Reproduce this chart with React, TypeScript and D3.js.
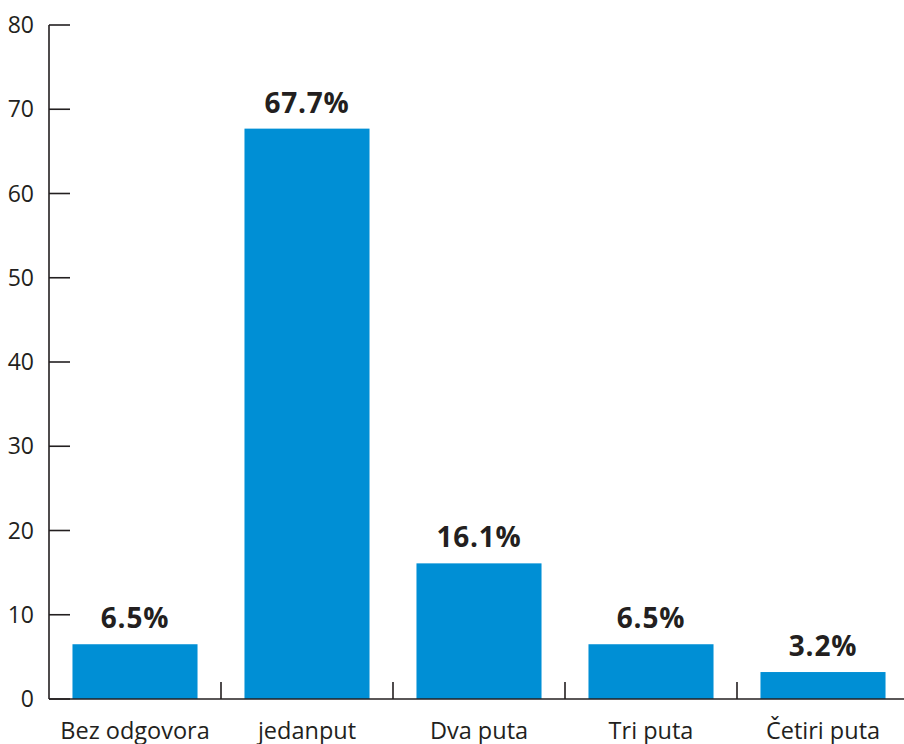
import React from "react";
import * as d3 from "d3";

const categories = ["Bez odgovora", "jedanput", "Dva puta", "Tri puta", "Četiri puta"];
const values = [6.5, 67.7, 16.1, 6.5, 3.2];
const valueLabels = ["6.5%", "67.7%", "16.1%", "6.5%", "3.2%"];
const yTicks = [0, 10, 20, 30, 40, 50, 60, 70, 80];

const W = 904;
const H = 744;
const ink = "#231f20";
const barColor = "#008fd5";
const font = "'Open Sans', 'Noto Sans', sans-serif";

export default function App() {
  const x0 = 49;
  const y0 = 699;
  const yTop = 25;
  const x = d3
    .scaleBand<string>()
    .domain(categories)
    .range([x0, x0 + 172 * categories.length])
    .paddingInner(0.273)
    .paddingOuter(0.1365);
  const y = d3.scaleLinear().domain([0, 80]).range([y0, yTop]);
  const step = x.step();

  return (
    <svg
      width={W}
      height={H}
      style={{ position: "absolute", left: 0, top: 0, display: "block", background: "#fff" }}
    >
      {categories.map((c, i) => (
        <rect
          key={c}
          x={x(c)!}
          y={y(values[i])}
          width={x.bandwidth()}
          height={y0 - y(values[i])}
          fill={barColor}
        />
      ))}
      {/* y axis */}
      <line x1={x0} x2={x0} y1={yTop} y2={y0} stroke={ink} strokeWidth={1.6} />
      {yTicks.map((t) => (
        <g key={t}>
          <line x1={x0} x2={x0 + 21} y1={y(t)} y2={y(t)} stroke={ink} strokeWidth={1.6} />
          <text
            x={34}
            y={y(t)}
            dy="0.35em"
            textAnchor="end"
            fontFamily={font}
            fontSize={23}
            fill={ink}
          >
            {t}
          </text>
        </g>
      ))}
      {/* x axis */}
      <line x1={x0} x2={W} y1={y0} y2={y0} stroke={ink} strokeWidth={1.6} />
      {categories.slice(1).map((c) => (
        <line
          key={"t" + c}
          x1={x(c)! - (step - x.bandwidth()) / 2}
          x2={x(c)! - (step - x.bandwidth()) / 2}
          y1={y0}
          y2={y0 - 17}
          stroke={ink}
          strokeWidth={1.6}
        />
      ))}
      {categories.map((c) => (
        <text
          key={"l" + c}
          x={x(c)! + x.bandwidth() / 2}
          y={739}
          textAnchor="middle"
          fontFamily={font}
          fontSize={23.5}
          fill={ink}
        >
          {c}
        </text>
      ))}
      {categories.map((c, i) => (
        <text
          key={"v" + c}
          x={x(c)! + x.bandwidth() / 2}
          y={y(values[i]) - 16}
          textAnchor="middle"
          fontFamily={font}
          fontWeight={700}
          fontSize={28}
          letterSpacing={0.8}
          fill={ink}
        >
          {valueLabels[i]}
        </text>
      ))}
    </svg>
  );
}
